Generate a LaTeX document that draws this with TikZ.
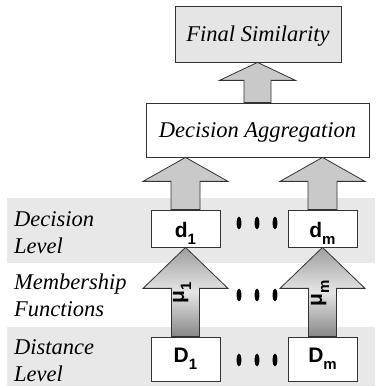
\documentclass[tikz,border=0pt]{standalone}
\usepackage{fontspec}
\setmainfont{Liberation Serif}
\setsansfont{Liberation Sans}
\usetikzlibrary{calc}

\definecolor{bandgray}{gray}{0.91}
\definecolor{boxgray}{gray}{0.90}
\definecolor{arrowgray}{gray}{0.79}

\newcommand{\lowsub}[1]{\raisebox{-7pt}{\fontsize{15}{15}\selectfont #1}}
% fat arrow: options, from, to, head length, head half width, shaft half width
\newcommand{\fatarrow}[6]{%
	\path[draw=black!80, line width=0.8pt, #1] let \p1=(#2.north), \p2=(#3.south) in
		(\x1-#6pt,\y1) -- (\x1-#6pt,\y2-#4pt) -- (\x1-#5pt,\y2-#4pt) -- (\x1,\y2)
		-- (\x1+#5pt,\y2-#4pt) -- (\x1+#6pt,\y2-#4pt) -- (\x1+#6pt,\y1) -- cycle;}

\tikzset{
	levellabel/.style={font=\fontsize{22.5}{27}\selectfont\itshape, align=left, anchor=base west, inner sep=0pt},
	textbox/.style={draw=black!80, line width=0.8pt, inner sep=0pt, font=\fontsize{22.5}{27}\selectfont\itshape, text height=15pt, text depth=0pt},
	valbox/.style={draw=black!80, fill=white, line width=0.8pt, inner sep=0pt, minimum width=69pt, font=\fontsize{21}{21}\selectfont\sffamily\bfseries},
	mulabel/.style={rotate=90, inner sep=0pt, font=\fontsize{21}{21}\selectfont\sffamily\bfseries},
	mushade/.style={top color=black!38, bottom color=black!47, middle color=black!10}
}

\begin{document}
\begin{tikzpicture}[x=1pt, y=1pt]
	\useasboundingbox (0,0) rectangle (375,388);
		%bands
			\fill[bandgray] (7,125) rectangle (375,190);
			\fill[bandgray] (7,2) rectangle (375,61);
		%level labels (anchored at the second line)
			\node[levellabel] (declevel) at (14,134) {Decision\\Level};
			\node[levellabel] (memfun) at (14,71) {Membership\\Functions};
			\node[levellabel] (distlevel) at (14,6) {Distance\\Level};
		%boxes
			\node[textbox, fill=boxgray, minimum width=166pt, minimum height=56pt] (final) at (258,354) {Final Similarity};
			\node[textbox, fill=white, minimum width=223pt, minimum height=54pt] (agg) at (257.5,258) {Decision Aggregation};
			\node[valbox, minimum height=37pt, text height=18pt, text depth=0pt] (d1) at (185.5,159.5) {d\lowsub{1}};
			\node[valbox, minimum height=37pt, text height=18pt, text depth=0pt] (dm) at (322.5,159.5) {d\lowsub{m}};
			\node[valbox, minimum height=44pt] (D1) at (185.5,29) {D\lowsub{1}};
			\node[valbox, minimum height=44pt] (Dm) at (322.5,29) {D\lowsub{m}};
		%arrows
			\fatarrow{fill=arrowgray}{agg}{final}{18}{38}{13.5}
			\fatarrow{fill=arrowgray}{d1}{agg}{24}{42.5}{14.5}
			\fatarrow{fill=arrowgray}{dm}{agg}{24}{42.5}{14.5}
			\fatarrow{mushade}{D1}{d1}{41}{42.5}{14}
			\fatarrow{mushade}{Dm}{dm}{41}{42.5}{14}
		%membership labels
			\node[mulabel] (mu1) at (182,95) {μ\lowsub{1}};
			\node[mulabel] (mum) at (320,95) {μ\lowsub{m}};
		%dots
			\foreach \x in {239,257,275}
				\foreach \y in {165,93,28}
					\fill (\x,\y) ellipse (2.4 and 6.5);
	\end{tikzpicture}
\end{document}
